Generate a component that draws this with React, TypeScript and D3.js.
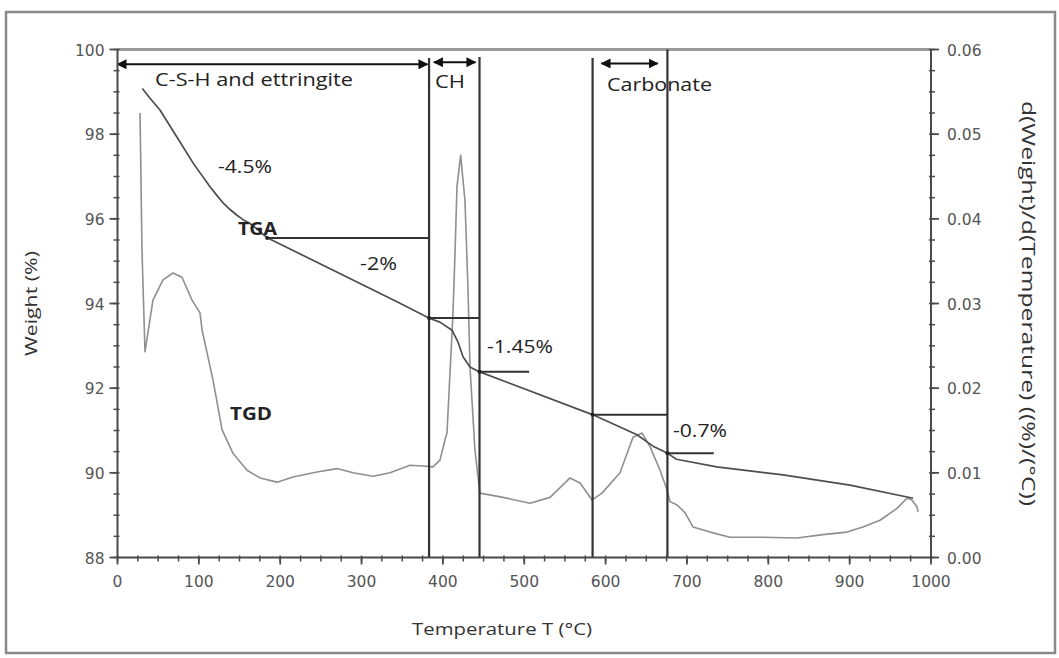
import React from "react";
import * as d3 from "d3";

// ---------- data ----------
const tgaTemp = [30.5, 40.0, 52.2, 72.8, 93.2, 113.7, 121.9, 130.1, 138.3, 146.5, 154.3, 162.9, 172.7, 183.4, 343.6, 383.3, 396.4, 411.2, 418.6, 424.7, 433.3, 444.4, 584.5, 638.6, 658.3, 676.3, 687.2, 736.6, 818.1, 900.4, 978];
const tgaWeight = [99.08, 98.85, 98.57, 97.94, 97.31, 96.76, 96.56, 96.37, 96.22, 96.09, 95.98, 95.89, 95.74, 95.56, 94.04, 93.65, 93.56, 93.37, 93.09, 92.74, 92.5, 92.39, 91.37, 90.9, 90.63, 90.46, 90.32, 90.14, 89.95, 89.71, 89.4];

const tgdTemp = [27.7, 30.1, 33.8, 43.6, 55.9, 68.2, 79.3, 91.6, 101.4, 103.9, 117.3, 128.5, 142, 159.2, 175.2, 196.1, 215.7, 245.2, 269.8, 289.5, 314.1, 335, 359.6, 375.5, 387.8, 396.4, 402.6, 405, 411.2, 412.4, 414.9, 417.3, 421.8, 427.1, 430.8, 433.3, 439.4, 445.5, 473.9, 507.1, 531.7, 556.3, 568.6, 583.4, 595.6, 617.7, 633.7, 644.8, 654.6, 666.9, 675.5, 679.2, 687.8, 697.6, 707.5, 728.4, 753, 793.5, 835.3, 867.2, 896.7, 916.4, 937.3, 958.2, 970.5, 976.6, 982.8, 984];
const tgdDeriv = [0.0525, 0.0363, 0.0243, 0.0304, 0.0328, 0.0336, 0.0331, 0.0304, 0.0289, 0.0269, 0.021, 0.0151, 0.0123, 0.0103, 0.0094, 0.0089, 0.0095, 0.0101, 0.0105, 0.01, 0.0096, 0.01, 0.0109, 0.0108, 0.0107, 0.0115, 0.0139, 0.0147, 0.0265, 0.0289, 0.036, 0.0438, 0.0475, 0.0422, 0.0319, 0.0225, 0.0127, 0.0076, 0.0071, 0.0064, 0.0071, 0.0094, 0.0088, 0.0068, 0.0076, 0.01, 0.0142, 0.0147, 0.0131, 0.0103, 0.008, 0.0066, 0.0062, 0.0053, 0.0036, 0.003, 0.0024, 0.0024, 0.0023, 0.0027, 0.003, 0.0036, 0.0044, 0.0058, 0.007, 0.0068, 0.006, 0.0054];

const xTicks = [0, 100, 200, 300, 400, 500, 600, 700, 800, 900, 1000];
const yLeftTicks = [88, 90, 92, 94, 96, 98, 100];
const yRightTicks = [0, 0.01, 0.02, 0.03, 0.04, 0.05, 0.06];

// vertical region boundaries (temperature, top weight)
const boundaryTemps = [383, 445, 584, 676];
const boundaryTops = [99.8, 99.82, 99.8, 100];

// horizontal step lines
const stepStart = [184, 383, 445, 584, 676];
const stepEnd = [383, 445, 506, 676, 733];
const stepWeight = [95.55, 93.66, 92.39, 91.37, 90.46];

// region arrows
const arrowStart = [0, 389, 595];
const arrowEnd = [381, 440, 664];
const arrowWeight = [99.65, 99.7, 99.67];

// text annotations
const regionLabels = ["C-S-H and ettringite", "CH", "Carbonate"];
const regionLabelT = [46.1, 390.3, 601.7];
const regionLabelW = [99.14, 99.09, 99.02];
const regionLabelLen = [198, 30, 105];

const lossLabels = ["-4.5%", "-2%", "-1.45%", "-0.7%"];
const lossLabelT = [123.5, 298.1, 454.2, 682.8];
const lossLabelW = [97.08, 94.79, 92.83, 90.85];
const lossLabelLen = [54, 37, 66, 54];

const curveLabels = ["TGA", "TGD"];
const curveLabelT = [148.1, 138.3];
const curveLabelW = [95.62, 91.25];
const curveLabelLen = [39, 42];

const W = 1059;
const H = 658;

export default function App() {
  const x = d3.scaleLinear().domain([0, 1000]).range([117.5, 931]);
  const yL = d3.scaleLinear().domain([88, 100]).range([557.5, 49.5]);
  const yR = d3.scaleLinear().domain([0, 0.06]).range([557.5, 49.5]);

  const tgaLine = d3
    .line<number>()
    .x((_, i) => x(tgaTemp[i]))
    .y((d) => yL(d))
    .curve(d3.curveLinear);
  const tgdLine = d3
    .line<number>()
    .x((_, i) => x(tgdTemp[i]))
    .y((d) => yR(d))
    .curve(d3.curveLinear);

  const xMinor = d3.range(0, 1001, 25);
  const yLMinor = d3.range(88, 100.01, 0.5);
  const yRMinor = d3.range(0, 0.0601, 0.0025);

  const axisColor = "#4a4a4a";
  const tickFont = "'DejaVu Sans', sans-serif";
  const textFont = "'Open Sans', 'DejaVu Sans', sans-serif";
  const tickColor = "#555";

  return (
    <svg
      width={W}
      height={H}
      viewBox={`0 0 ${W} ${H}`}
      style={{ position: "absolute", left: 0, top: 0, background: "#fff" }}
    >
      <defs>
        <marker id="ah" viewBox="0 0 10 10" refX="9" refY="5" markerWidth="10" markerHeight="10" orient="auto-start-reverse" markerUnits="userSpaceOnUse">
          <path d="M0,0 L10,5 L0,10 z" fill="#111" />
        </marker>
      </defs>
      <rect x={0} y={0} width={W} height={H} fill="#fff" />
      {/* outer frame */}
      <rect x={6} y={12} width={1049} height={641} fill="none" stroke="#8a8a8a" strokeWidth={2.5} />

      {/* plot top border */}
      <line x1={x(0)} x2={x(1000)} y1={yL(100)} y2={yL(100)} stroke="#9a9a9a" strokeWidth={3} />

      {/* TGD curve */}
      <path d={tgdLine(tgdDeriv) || ""} fill="none" stroke="#8f8f8f" strokeWidth={1.6} strokeLinejoin="round" />
      {/* TGA curve */}
      <path d={tgaLine(tgaWeight) || ""} fill="none" stroke="#4d4d4d" strokeWidth={1.7} strokeLinejoin="round" />

      {/* boundary vertical lines */}
      {boundaryTemps.map((t, i) => (
        <line key={"b" + i} x1={x(t)} x2={x(t)} y1={yL(boundaryTops[i])} y2={yL(88)} stroke="#333" strokeWidth={2.2} />
      ))}
      {/* step lines */}
      {stepWeight.map((w, i) => (
        <g key={"s" + i}>
          <line x1={x(stepStart[i])} x2={x(stepEnd[i])} y1={yL(w)} y2={yL(w)} stroke="#333" strokeWidth={2} />
          <circle cx={x(stepStart[i])} cy={yL(w)} r={2} fill="#222" />
        </g>
      ))}
      {/* region arrows */}
      {arrowWeight.map((w, i) => (
        <line key={"a" + i} x1={x(arrowStart[i])} x2={x(arrowEnd[i])} y1={yL(w)} y2={yL(w)} stroke="#111" strokeWidth={2} markerStart="url(#ah)" markerEnd="url(#ah)" />
      ))}

      {/* axes */}
      <line x1={x(0)} x2={x(0)} y1={yL(100)} y2={yL(88)} stroke={axisColor} strokeWidth={2} />
      <line x1={x(1000)} x2={x(1000)} y1={yL(100)} y2={yL(88)} stroke={axisColor} strokeWidth={2} />
      <line x1={x(0)} x2={x(1000)} y1={yL(88)} y2={yL(88)} stroke={axisColor} strokeWidth={2} />

      {/* x ticks */}
      {xMinor.map((t) => (
        <line key={"xm" + t} x1={x(t)} x2={x(t)} y1={yL(88) - 2} y2={yL(88) + 4} stroke={axisColor} strokeWidth={1.5} />
      ))}
      {xTicks.map((t) => (
        <g key={"x" + t}>
          <line x1={x(t)} x2={x(t)} y1={yL(88)} y2={yL(88) + 7} stroke={axisColor} strokeWidth={1.8} />
          <text x={x(t)} y={yL(88) + 29} textAnchor="middle" fontFamily={tickFont} fontSize={15.5} fill={tickColor}>
            {t}
          </text>
        </g>
      ))}

      {/* left ticks */}
      {yLMinor.map((v) => (
        <line key={"lm" + v} x1={x(0) - 4} x2={x(0) + 2} y1={yL(v)} y2={yL(v)} stroke={axisColor} strokeWidth={1.5} />
      ))}
      {yLeftTicks.map((v) => (
        <g key={"l" + v}>
          <line x1={x(0) - 8} x2={x(0)} y1={yL(v)} y2={yL(v)} stroke={axisColor} strokeWidth={1.8} />
          <text x={x(0) - 13} y={yL(v) + 6} textAnchor="end" fontFamily={tickFont} fontSize={15.5} fill={tickColor}>
            {v}
          </text>
        </g>
      ))}

      {/* right ticks */}
      {yRMinor.map((v, i) => (
        <line key={"rm" + i} x1={x(1000) - 2} x2={x(1000) + 4} y1={yR(v)} y2={yR(v)} stroke={axisColor} strokeWidth={1.5} />
      ))}
      {yRightTicks.map((v) => (
        <g key={"r" + v}>
          <line x1={x(1000)} x2={x(1000) + 8} y1={yR(v)} y2={yR(v)} stroke={axisColor} strokeWidth={1.8} />
          <text x={x(1000) + 16} y={yR(v) + 6} textAnchor="start" fontFamily={tickFont} fontSize={15.5} fill={tickColor}>
            {v.toFixed(2)}
          </text>
        </g>
      ))}

      {/* axis titles */}
      <text x={412} y={635} textLength={180} lengthAdjust="spacingAndGlyphs" fontFamily={textFont} fontSize={17} fill="#333">
        Temperature T (°C)
      </text>
      <text transform={`translate(37,${yL(94)}) rotate(-90)`} textAnchor="middle" textLength={105} lengthAdjust="spacingAndGlyphs" fontFamily={textFont} fontSize={17} fill="#333">
        Weight (%)
      </text>
      <text transform={`translate(1022,${yR(0.03)}) rotate(90)`} textAnchor="middle" textLength={405} lengthAdjust="spacingAndGlyphs" fontFamily={textFont} fontSize={19} fill="#333">
        d(Weight)/d(Temperature) ((%)/(°C))
      </text>

      {/* region labels */}
      {regionLabels.map((s, i) => (
        <text key={"rl" + i} x={x(regionLabelT[i])} y={yL(regionLabelW[i])} textLength={regionLabelLen[i]} lengthAdjust="spacingAndGlyphs" fontFamily={textFont} fontSize={19} fill="#222">
          {s}
        </text>
      ))}
      {/* loss labels */}
      {lossLabels.map((s, i) => (
        <text key={"ll" + i} x={x(lossLabelT[i])} y={yL(lossLabelW[i])} textLength={lossLabelLen[i]} lengthAdjust="spacingAndGlyphs" fontFamily={textFont} fontSize={18} fill="#222">
          {s}
        </text>
      ))}
      {curveLabels.map((s, i) => (
        <text key={"cl" + i} x={x(curveLabelT[i])} y={yL(curveLabelW[i])} textLength={curveLabelLen[i]} lengthAdjust="spacingAndGlyphs" fontFamily={textFont} fontSize={18} fontWeight="bold" fill="#222">
          {s}
        </text>
      ))}
    </svg>
  );
}
